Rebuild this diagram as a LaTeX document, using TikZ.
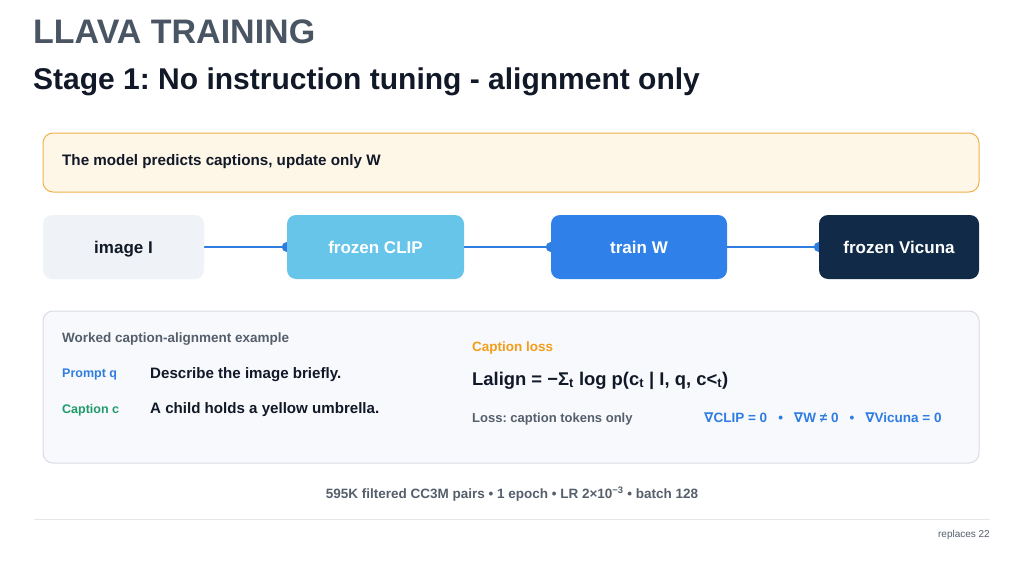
\documentclass[tikz,border=0pt]{standalone}
\usepackage{fontspec}
\setmainfont{Liberation Sans}
\newfontfamily\symfont{DejaVu Sans}
\definecolor{titlegray}{HTML}{4A5563}
\definecolor{ink}{HTML}{111827}
\definecolor{note}{HTML}{555F6C}
\definecolor{accent}{HTML}{2F7DE1}
\definecolor{yfill}{HTML}{FEF6E7}
\definecolor{yline}{HTML}{EFB24A}
\definecolor{imgfill}{HTML}{EFF3F8}
\definecolor{clipfill}{HTML}{66C5E8}
\definecolor{wfill}{HTML}{2F80E8}
\definecolor{vicfill}{HTML}{112A47}
\definecolor{pfill}{HTML}{F7F9FC}
\definecolor{pline}{HTML}{D8DDE3}
\definecolor{capgreen}{HTML}{1F9B6A}
\definecolor{lossorange}{HTML}{F29E1A}
\definecolor{rule}{HTML}{E5E7EB}
\pgfdeclarelayer{bg}
\pgfsetlayers{bg,main}
\tikzset{
  stagebox/.style={rounded corners=9pt, minimum height=64pt, font=\fontsize{17}{20}\selectfont\bfseries, inner sep=0pt, text height=12pt, text depth=0pt},
  conn/.style={draw=accent, line width=2pt},
  txt/.style={anchor=base west, inner sep=0pt},
}
\frenchspacing
\begin{document}
\frenchspacing
\begin{tikzpicture}[x=1pt,y=-1pt]
\useasboundingbox (0,0) rectangle (1024,575);
% titles
\node[txt, text=titlegray, font=\fontsize{34}{38}\selectfont\bfseries] (title) at (33,43.5) {LLAVA TRAINING};
\node[txt, text=ink, font=\fontsize{30}{34}\selectfont\bfseries] (sub) at (33,89.5) {Stage 1: No instruction tuning - alignment only};
% yellow box
\draw[rounded corners=10pt, fill=yfill, draw=yline, line width=1pt] (43,133) rectangle (979,192);
\node[txt, text=ink, font=\fontsize{15.2}{18}\selectfont\bfseries] (note1) at (62,165) {The model predicts captions, update only W};
% stage boxes
\node[stagebox, fill=imgfill, text=ink, minimum width=161pt] (img) at (123.5,247) {image I};
\node[stagebox, fill=clipfill, text=white, minimum width=177pt] (clip) at (375.5,247) {frozen CLIP};
\node[stagebox, fill=wfill, text=white, minimum width=176pt] (w) at (639,247) {train W};
\node[stagebox, fill=vicfill, text=white, minimum width=160pt] (vic) at (899,247) {frozen Vicuna};
\begin{pgfonlayer}{bg}
\fill[white] (0,0) rectangle (1024,575);
\fill[accent] (clip.west) circle (5pt);
\fill[accent] (w.west) circle (5pt);
\fill[accent] (vic.west) circle (5pt);
\draw[conn] (img.east) -- (clip.west);
\draw[conn] (clip.east) -- (w.west);
\draw[conn] (w.east) -- (vic.west);
\end{pgfonlayer}
% panel
\draw[rounded corners=10pt, fill=pfill, draw=pline, line width=1pt] (43,311) rectangle (979,463);
\node[txt, text=note, font=\fontsize{13.5}{16}\selectfont\bfseries] (ex) at (62,342.3) {Worked caption-alignment example};
\node[txt, text=accent, font=\fontsize{12.5}{15}\selectfont\bfseries] (pq) at (62,377.7) {Prompt q};
\node[txt, text=ink, font=\fontsize{15.1}{18}\selectfont\bfseries] (pqt) at (150,378) {Describe the image briefly.};
\node[txt, text=capgreen, font=\fontsize{12.5}{15}\selectfont\bfseries] (cc) at (62,413) {Caption c};
\node[txt, text=ink, font=\fontsize{15.1}{18}\selectfont\bfseries] (cct) at (150,413.5) {A child holds a yellow umbrella.};
\node[txt, text=lossorange, font=\fontsize{13.5}{16}\selectfont\bfseries] (cl) at (472,351.7) {Caption loss};
\node[txt, text=ink, font=\fontsize{18.4}{22}\selectfont\bfseries] (eq) at (472,385) {Lalign = −Σ\textsubscript{t} log p(c\textsubscript{t} | I, q, c<\textsubscript{t})};
\node[txt, text=note, font=\fontsize{13}{16}\selectfont\bfseries] (lo) at (472,422.5) {Loss: caption tokens only};
\node[txt, text=accent, font=\fontsize{13.5}{16}\selectfont\bfseries] (gr) at (704,422.3) {{\symfont ∇}CLIP = 0\hspace{11pt}•\hspace{11pt}{\symfont ∇}W ≠ 0\hspace{11pt}•\hspace{11pt}{\symfont ∇}Vicuna = 0};
% footer
\node[anchor=base, text=note, font=\fontsize{13.5}{16}\selectfont\bfseries, inner sep=0pt] (foot) at (512,498.5) {595K filtered CC3M pairs • 1 epoch • LR 2×10\textsuperscript{−3} • batch 128};
\draw[rule, line width=1pt] (34,519) -- (990,519);
\node[anchor=base east, inner sep=0pt, text=note, font=\fontsize{10}{12}\selectfont] (rep) at (990,537.7) {replaces 22};
\end{tikzpicture}
\end{document}
